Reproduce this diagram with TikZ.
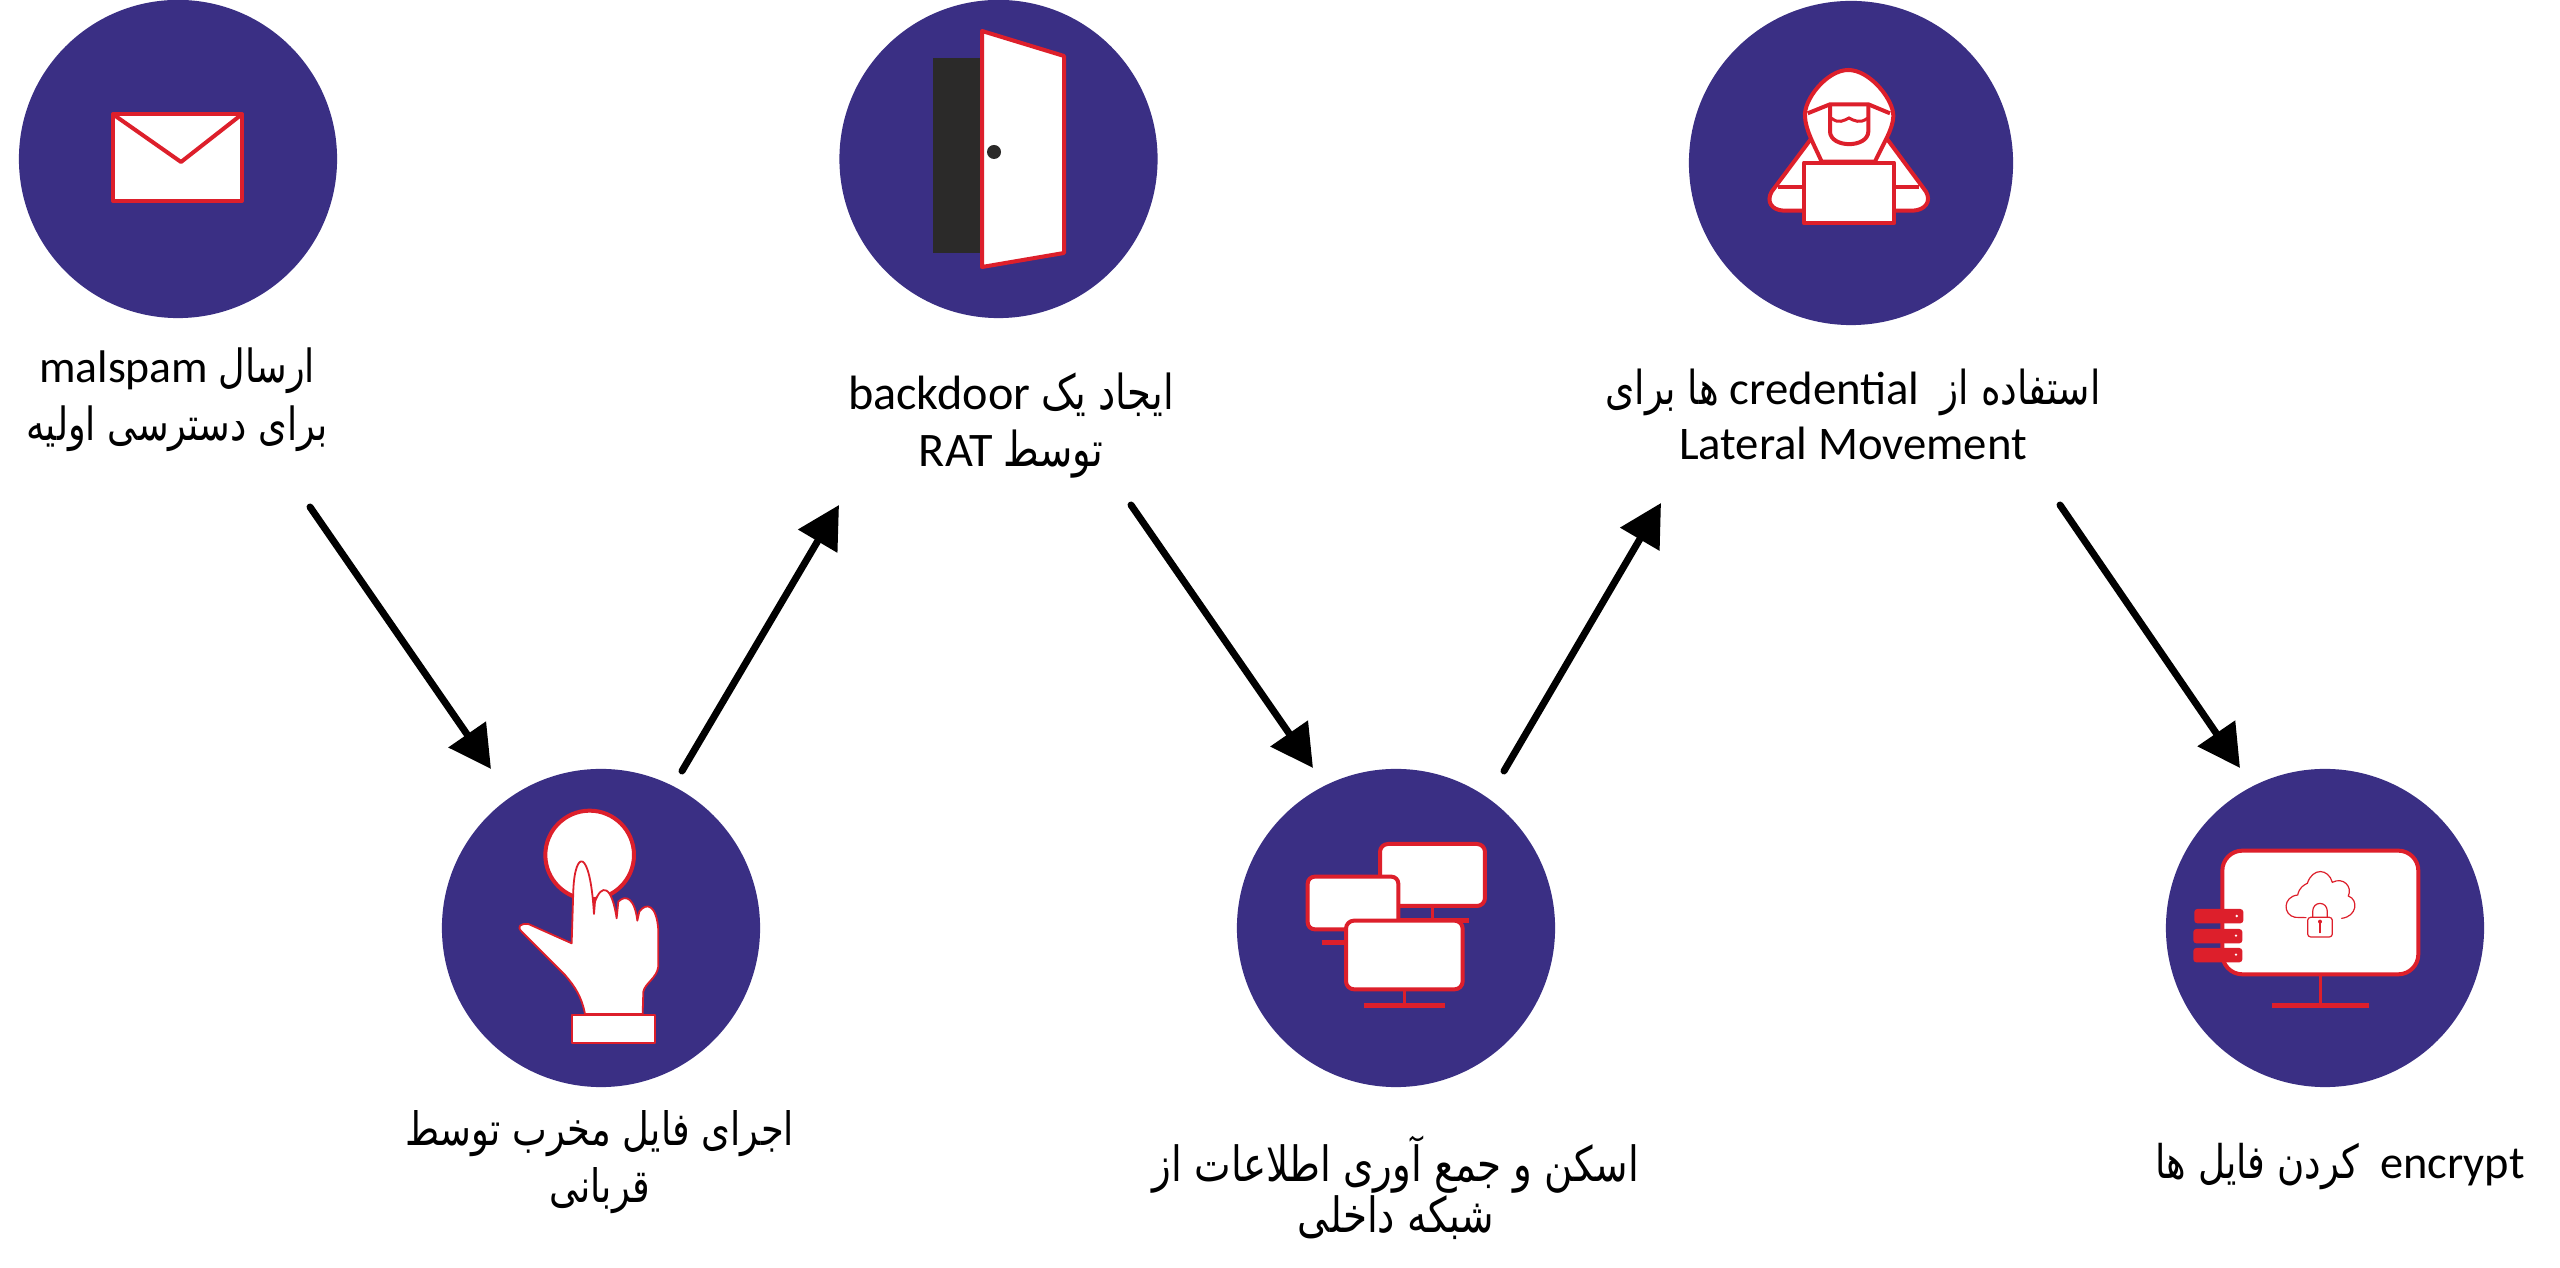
\documentclass[tikz,border=0pt]{standalone}
\usepackage{fontspec}
\usetikzlibrary{arrows.meta}
\setmainfont{Carlito}
\newfontfamily\arabicfont[Script=Arabic,FakeStretch=0.8]{DejaVu Sans}
\TeXXeTstate=1
\newcommand{\fa}[1]{{\arabicfont #1}}
\newcommand{\en}[1]{\beginL #1\endL{}}
\definecolor{disc}{HTML}{3A2F84}
\definecolor{rd}{HTML}{DD1F2B}
\definecolor{darkdoor}{HTML}{2B2A29}
\tikzset{
  disc/.style={circle,fill=disc,inner sep=0pt,minimum size=3.18cm},
  flow/.style={line width=.07cm,line cap=round,-{Triangle[length=.42cm,width=.44cm]}},
  lab/.style 2 args={align=center,inner sep=0pt,font=\fontsize{#1}{#2}\selectfont},
  icon/.style={draw=rd,fill=white,line width=.04cm,line join=round},
  thin/.style={draw=rd,line width=.012cm,line cap=round},
  hand/.style={draw=rd,fill=white,line width=.018cm,line join=round},
  bar/.style={draw=rd,line width=.05cm},
}
\begin{document}
\begin{tikzpicture}[x=.01cm,y=-.01cm]
\useasboundingbox (0,0) rectangle (2560,1268);
\fill[white] (0,0) rectangle (2560,1268);
% discs
\node[disc] (c1) at (178,159) {};
\node[disc] (c2) at (998.5,159) {};
\node[disc,minimum size=3.24cm] (c3) at (1851,163) {};
\node[disc] (c4) at (601,928) {};
\node[disc] (c5) at (1396,928) {};
\node[disc] (c6) at (2325,928) {};
% labels
\node[lab={13.0}{16.4pt}] (t1) at (177,400) {\beginR\fa{ارسال} \en{malspam}\endR\\\beginR\fa{برای دسترسی اولیه}\endR};
\node[lab={13.7}{16.2pt}] (t2) at (1011,426) {\beginR\fa{ایجاد یک} \en{backdoor}\endR\\\beginR\fa{توسط} \en{RAT}\endR};
\node[lab={13.3}{15.6pt}] (t3) at (1853,414) {\beginR\fa{استفاده از}\ \ \en{credential} \fa{ها برای}\endR\\Lateral Movement};
\node[lab={13.1}{16.2pt}] (t4) at (600,1162) {\beginR\fa{اجرای فایل مخرب توسط}\endR\\\beginR\fa{قربانی}\endR};
\node[lab={13.8}{14.4pt}] (t5) at (1396,1188) {\beginR\fa{اسکن و جمع آوری اطلاعات از}\endR\\\beginR\fa{شبکه داخلی}\endR};
\node[lab={13.2}{16pt}] (t6) at (2340,1167) {\beginR\en{encrypt}\ \ \fa{کردن فایل ها}\endR};
% connectors
\coordinate (a1s) at (310,507); \coordinate (a1e) at (491,769);
\coordinate (a2s) at (682,771); \coordinate (a2e) at (839,505);
\coordinate (a3s) at (1131,505); \coordinate (a3e) at (1313,768);
\coordinate (a4s) at (1504,771); \coordinate (a4e) at (1661,503);
\coordinate (a5s) at (2060,505); \coordinate (a5e) at (2240,768);
\draw[flow] (a1s) -- (a1e);
\draw[flow] (a2s) -- (a2e);
\draw[flow] (a3s) -- (a3e);
\draw[flow] (a4s) -- (a4e);
\draw[flow] (a5s) -- (a5e);
% envelope
\draw[icon] (113,114) rectangle (242,201);
\draw[icon,fill=none] (114,115) -- (181,162) -- (241,115);
% door
\fill[darkdoor] (933,58) rectangle (982,253);
\draw[icon] (982,31) -- (1064,56) -- (1064,253) -- (982,267) -- cycle;
\fill[darkdoor] (994,152) circle (7);
% hacker
\begin{scope}[shift={(1740,50)},scale=.3333]
  \draw[icon] (212,268) -- (95,425) .. controls (78,455) and (95,480) .. (130,482) -- (520,482) .. controls (555,480) and (575,455) .. (558,425) -- (442,268) -- cycle;
  \draw[icon] (115,412) -- (190,412) (465,412) -- (538,412);
  \draw[icon] (325,60) .. controls (260,60) and (190,150) .. (195,200) .. controls (197,240) and (220,280) .. (245,335) -- (405,335) .. controls (430,280) and (458,240) .. (460,200) .. controls (462,150) and (390,60) .. (325,60) -- cycle;
  \draw[icon,fill=none] (203,190) -- (270,163) -- (385,163) -- (450,190);
  \draw[icon,fill=none] (270,163) -- (270,245) .. controls (272,295) and (383,295) .. (385,245) -- (385,163);
  \draw[draw=rd,line width=.03cm] (275,205) .. controls (295,222) and (312,212) .. (327,204) .. controls (342,212) and (360,222) .. (382,205);
  \draw[icon] (192,338) rectangle (462,520);
\end{scope}
% hand
\begin{scope}[shift={(480,790)},scale=.3333]
  \draw[icon] (329,195) circle (133);
  \draw[hand] (315,672) .. controls (305,620) and (285,590) .. (255,555) -- (125,425) .. controls (110,410) and (120,400) .. (145,402) -- (275,460) -- (280,300) .. controls (285,180) and (330,170) .. (342,372) -- (345,335) .. controls (365,280) and (395,285) .. (410,385) -- (415,335) .. controls (440,310) and (465,330) .. (472,392) -- (478,365) .. controls (500,335) and (530,345) .. (535,420) -- (535,530) .. controls (530,565) and (495,580) .. (490,605) -- (488,672) -- cycle;
  \draw[hand] (275,675) rectangle (525,758);
\end{scope}
% network
\begin{scope}[shift={(1290,830)},scale=.3333]
  \draw[bar,line width=.03cm] (427,228) -- (427,272);
  \draw[bar] (330,273) -- (537,273);
  \draw[icon,rounded corners=.08cm] (270,42) rectangle (585,228);
  \draw[bar] (95,338) -- (200,338);
  \draw[icon,rounded corners=.07cm] (53,140) rectangle (325,298);
  \draw[bar,line width=.03cm] (342,478) -- (342,528);
  \draw[bar] (222,528) -- (465,528);
  \draw[icon,rounded corners=.08cm] (168,272) rectangle (518,478);
\end{scope}
% encrypted monitor
\begin{scope}[shift={(2160,830)},scale=.3333]
  \draw[bar,line width=.03cm] (480,433) -- (480,527);
  \draw[bar] (335,527) -- (627,527);
  \draw[icon,rounded corners=.2cm] (187,62) rectangle (775,433);
  \fill[rd,rounded corners=.03cm] (103,237) rectangle (250,280);
  \fill[rd,rounded corners=.03cm] (100,297) rectangle (247,340);
  \fill[rd,rounded corners=.03cm] (100,354) rectangle (247,397);
  \fill[white] (230,258) circle (4) (228,317) circle (4) (228,374) circle (4);
  \draw[thin] (438,263) -- (405,262) .. controls (368,255) and (368,200) .. (413,195) .. controls (418,172) and (432,165) .. (442,160) .. controls (458,112) and (505,115) .. (517,157) .. controls (550,140) and (578,170) .. (565,198) .. controls (597,210) and (590,260) .. (545,265);
  \draw[thin] (458,262) -- (458,245) .. controls (458,212) and (502,212) .. (502,245) -- (502,262);
  \draw[thin,rounded corners=.03cm] (443,262) rectangle (517,321);
  \fill[rd] (480,275) circle (6);
  \draw[thin] (480,275) -- (480,308);
\end{scope}
\end{tikzpicture}
\end{document}
